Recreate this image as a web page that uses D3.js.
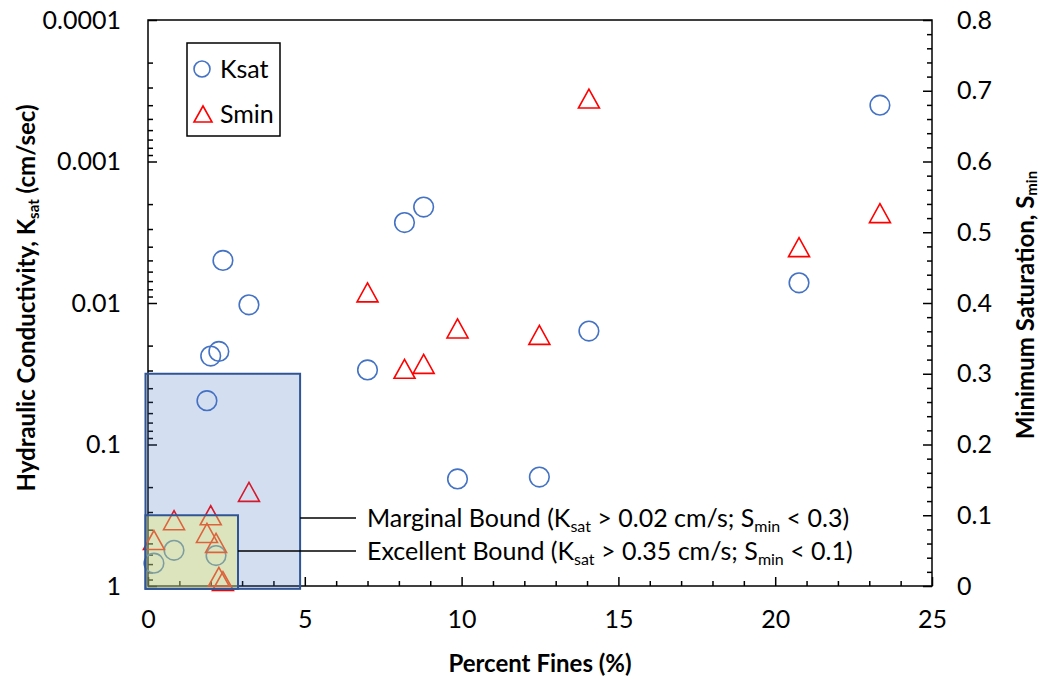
<!DOCTYPE html>
<html>
<head>
<meta charset="utf-8">
<script src="https://cdn.jsdelivr.net/npm/d3@7"></script>
<style>
  body { margin: 0; background: #fff; }
  text { font-family: Lato, "Open Sans", sans-serif; fill: #000; }
</style>
</head>
<body>
<svg id="chart" width="1042" height="679"></svg>
<script>
// percent fines of each sample
const fines = [0.19, 0.83, 1.88, 2.0, 2.17, 2.26, 2.39, 3.22, 7.0, 8.18, 8.79, 9.87, 12.48, 14.06, 20.76, 23.34];
// saturated hydraulic conductivity (cm/sec)
const ksat = [0.69, 0.56, 0.049, 0.0237, 0.61, 0.022, 0.005, 0.0103, 0.0297, 0.0027, 0.0021, 0.175, 0.17, 0.0158, 0.0072, 0.0004];
// minimum saturation
const smin = [0.065, 0.093, 0.075, 0.10, 0.061, 0.013, 0.007, 0.133, 0.415, 0.307, 0.314, 0.364, 0.355, 0.689, 0.479, 0.527];

const xTicks = [0, 5, 10, 15, 20, 25];
const kTicks = [1, 0.1, 0.01, 0.001, 0.0001];
const kLabels = ["1", "0.1", "0.01", "0.001", "0.0001"];
const sTicks = [0, 0.1, 0.2, 0.3, 0.4, 0.5, 0.6, 0.7, 0.8];
const sLabels = ["0", "0.1", "0.2", "0.3", "0.4", "0.5", "0.6", "0.7", "0.8"];

// bound boxes: fines extent and smin upper limit
const bounds = [
  {name: "Marginal Bound", fines: 4.85, smin: 0.3, k: "0.02", s: "0.3", color: "#4472C4", alpha: 0.23},
  {name: "Excellent Bound", fines: 2.87, smin: 0.1, k: "0.35", s: "0.1", color: "#ECF15B", alpha: 0.35}
];

const margin = {top: 20, right: 110, bottom: 93, left: 148};
const width = 1042 - margin.left - margin.right;
const height = 679 - margin.top - margin.bottom;

const svg = d3.select("#chart");
const g = svg.append("g").attr("transform", `translate(${margin.left},${margin.top})`);

const x = d3.scaleLinear().domain([0, 25]).range([0, width]);
const yK = d3.scaleLog().domain([1, 0.0001]).range([height, 0]);
const yS = d3.scaleLinear().domain([0, 0.8]).range([height, 0]);

// minor ticks
const xMinor = d3.range(0, 26).filter(d => d % 5 !== 0);
const kMinor = yK.ticks().filter(d => !kTicks.some(t => Math.abs(t - d) < 1e-12));
const sMinor = d3.range(0, 41).map(d => d / 50).filter((d, i) => i % 5 !== 0);

function axisStyle(sel) {
  sel.select(".domain").remove();
  sel.selectAll("line").attr("stroke", "#000").attr("stroke-width", 1.5);
  sel.selectAll("text").style("font-size", "25px").style("font-family", "Lato, sans-serif");
}

g.append("g").attr("transform", `translate(0,${height})`)
  .call(d3.axisBottom(x).tickValues(xMinor).tickSize(-5).tickFormat(""))
  .call(axisStyle);
g.append("g").attr("transform", `translate(0,${height})`)
  .call(d3.axisBottom(x).tickValues(xTicks).tickSize(-9).tickPadding(24))
  .call(axisStyle);

g.append("g")
  .call(d3.axisLeft(yK).tickValues(kMinor).tickSize(-5).tickFormat(""))
  .call(axisStyle);
g.append("g")
  .call(d3.axisLeft(yK).tickValues(kTicks).tickSize(-9).tickPadding(27)
    .tickFormat((d, i) => kLabels[i]))
  .call(axisStyle);

g.append("g").attr("transform", `translate(${width},0)`)
  .call(d3.axisRight(yS).tickValues(sMinor).tickSize(-5).tickFormat(""))
  .call(axisStyle);
g.append("g").attr("transform", `translate(${width},0)`)
  .call(d3.axisRight(yS).tickValues(sTicks).tickSize(-9).tickPadding(25)
    .tickFormat((d, i) => sLabels[i]))
  .call(axisStyle);

// frame
g.append("rect")
  .attr("width", width).attr("height", height)
  .attr("fill", "none").attr("stroke", "#000").attr("stroke-width", 1.5);

// points
const pts = fines.map((f, i) => ({f: f, k: ksat[i], s: smin[i]}));

g.selectAll(".ksat")
  .data(pts)
  .join("circle")
  .attr("class", "ksat")
  .attr("cx", d => x(d.f))
  .attr("cy", d => yK(d.k))
  .attr("r", 9.8)
  .attr("fill", "none")
  .attr("stroke", "#4472C4")
  .attr("stroke-width", 1.6);

const tri = "M0,-9.5L10.5,9.5L-10.5,9.5Z";
g.selectAll(".smin")
  .data(pts)
  .join("path")
  .attr("class", "smin")
  .attr("d", tri)
  .attr("transform", d => `translate(${x(d.f)},${yS(d.s)})`)
  .attr("fill", "none")
  .attr("stroke", "#FF0000")
  .attr("stroke-width", 1.6);

// bound boxes drawn over the points
g.selectAll(".bound")
  .data(bounds)
  .join("rect")
  .attr("class", "bound")
  .attr("x", x(-0.08))
  .attr("y", d => yS(d.smin))
  .attr("width", d => x(d.fines) - x(-0.08))
  .attr("height", d => yS(-0.004) - yS(d.smin))
  .attr("fill", d => d.color)
  .attr("fill-opacity", d => d.alpha)
  .attr("stroke", "#2F5597")
  .attr("stroke-width", 2);

// callouts
const calloutY = [518, 551];
const textX = 367;
bounds.forEach((b, i) => {
  const cy = calloutY[i] - margin.top;
  g.append("line")
    .attr("x1", x(b.fines)).attr("x2", textX - margin.left - 11)
    .attr("y1", cy).attr("y2", cy)
    .attr("stroke", "#000").attr("stroke-width", 1.5);
  const t = g.append("text")
    .attr("x", textX - margin.left)
    .attr("y", cy)
    .attr("dy", "0.35em")
    .style("font-size", "25px");
  t.append("tspan").text(`${b.name} (K`);
  t.append("tspan").text("sat").style("font-size", "16px").attr("dy", "5");
  t.append("tspan").text(` > ${b.k} cm/s; S`).attr("dy", "-5");
  t.append("tspan").text("min").style("font-size", "16px").attr("dy", "5");
  t.append("tspan").text(` < ${b.s})`).attr("dy", "-5");
});

// legend
const lg = svg.append("g").attr("transform", "translate(187,43)");
lg.append("rect").attr("width", 93).attr("height", 93)
  .attr("fill", "#fff").attr("stroke", "#000").attr("stroke-width", 1.5);
lg.append("circle").attr("cx", 15).attr("cy", 26).attr("r", 8)
  .attr("fill", "none").attr("stroke", "#4472C4").attr("stroke-width", 1.6);
lg.append("text").attr("x", 33).attr("y", 26).attr("dy", "0.35em")
  .style("font-size", "25px").text("Ksat");
lg.append("path").attr("d", "M0,-8L9,8L-9,8Z")
  .attr("transform", "translate(16,71)")
  .attr("fill", "none").attr("stroke", "#FF0000").attr("stroke-width", 1.6);
lg.append("text").attr("x", 33).attr("y", 71).attr("dy", "0.35em")
  .style("font-size", "25px").text("Smin");

// axis titles
svg.append("text")
  .attr("x", 540).attr("y", 672)
  .attr("text-anchor", "middle")
  .style("font-size", "24px").style("font-weight", "bold")
  .text("Percent Fines (%)");

const lt = svg.append("text")
  .attr("transform", "translate(35,298) rotate(-90)")
  .attr("text-anchor", "middle")
  .style("font-size", "24px").style("font-weight", "bold");
lt.append("tspan").text("Hydraulic Conductivity, K");
lt.append("tspan").text("sat").style("font-size", "15px").attr("dy", "4");
lt.append("tspan").text(" (cm/sec)").attr("dy", "-4");

const rt = svg.append("text")
  .attr("transform", "translate(1034,305) rotate(-90)")
  .attr("text-anchor", "middle")
  .style("font-size", "24px").style("font-weight", "bold");
rt.append("tspan").text("Minimum Saturation, S");
rt.append("tspan").text("min").style("font-size", "15px").attr("dy", "3");
</script>
</body>
</html>
